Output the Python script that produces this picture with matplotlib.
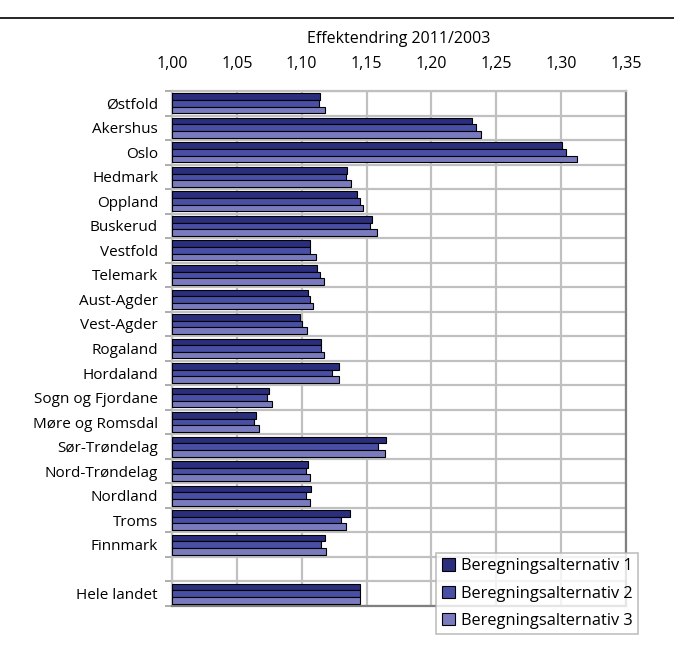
import numpy as np
import matplotlib.pyplot as plt
from matplotlib.ticker import FuncFormatter, FixedLocator

plt.rcParams['font.family'] = ['Open Sans', 'DejaVu Sans']

# data
fylker = ["Østfold", "Akershus", "Oslo", "Hedmark", "Oppland", "Buskerud",
          "Vestfold", "Telemark", "Aust-Agder", "Vest-Agder", "Rogaland",
          "Hordaland", "Sogn og Fjordane", "Møre og Romsdal", "Sør-Trøndelag",
          "Nord-Trøndelag", "Nordland", "Troms", "Finnmark"]
alt1 = [1.114, 1.231, 1.301, 1.135, 1.143, 1.154, 1.106, 1.112, 1.105, 1.099,
        1.115, 1.129, 1.075, 1.065, 1.165, 1.105, 1.107, 1.137, 1.118]
alt2 = [1.113, 1.234, 1.304, 1.134, 1.145, 1.153, 1.106, 1.114, 1.106, 1.100,
        1.115, 1.123, 1.073, 1.063, 1.159, 1.103, 1.103, 1.130, 1.115]
alt3 = [1.118, 1.238, 1.312, 1.138, 1.147, 1.158, 1.111, 1.117, 1.109, 1.104,
        1.117, 1.129, 1.077, 1.067, 1.164, 1.106, 1.106, 1.134, 1.119]
landet_label = "Hele landet"
landet = [1.145, 1.145, 1.145]
series_names = ["Beregningsalternativ 1", "Beregningsalternativ 2", "Beregningsalternativ 3"]
colors = ["#2b2e7c", "#4a4fa6", "#7a7bbf"]

fig = plt.figure(figsize=(6.74, 6.48), dpi=100)
ax = fig.add_axes([0.2552, 0.0648, 0.6736, 0.7948])

# one empty row between the counties and the national total
labels = fylker + ["", landet_label]
all_series = [alt1 + [np.nan, landet[0]],
              alt2 + [np.nan, landet[1]],
              alt3 + [np.nan, landet[2]]]
pos = np.arange(len(labels))

h = 0.27
for k, (vals, col, name) in enumerate(zip(all_series, colors, series_names)):
    v = np.array(vals, dtype=float)
    ax.barh(pos + (k - 1) * h, v - 1.0, left=1.0, height=h, color=col,
            edgecolor="black", linewidth=0.8, label=name, zorder=3)

ax.set_ylim(len(labels) - 0.5, -0.5)
ax.set_xlim(1.0, 1.35)

ax.set_yticks(pos)
ax.set_yticklabels(labels, fontsize=11)
ax.tick_params(axis="y", which="major", length=0, pad=10)
ax.yaxis.set_minor_locator(FixedLocator(np.arange(-0.5, len(labels), 1.0)))
ax.tick_params(axis="y", which="minor", length=5, width=1.2, color="#a0a0a0")

ax.xaxis.tick_top()
ax.xaxis.set_label_position("top")
ax.set_xticks(np.arange(1.0, 1.351, 0.05))
ax.xaxis.set_major_formatter(FuncFormatter(lambda x, p: f"{x:.2f}".replace(".", ",")))
ax.tick_params(axis="x", length=0, pad=14, labelsize=11.5)
ax.set_xlabel("Effektendring 2011/2003", fontsize=11.5, labelpad=9)

ax.grid(axis="x", which="major", color="#c0c0c0", linewidth=1.6, zorder=0)
ax.grid(axis="y", which="minor", color="#c0c0c0", linewidth=1.6, zorder=0)
ax.set_axisbelow(True)

for side in ["top", "left"]:
    ax.spines[side].set_color("#c0c0c0")
    ax.spines[side].set_linewidth(1.6)
for side in ["right", "bottom"]:
    ax.spines[side].set_color("#808080")
    ax.spines[side].set_linewidth(1.6)

leg = fig.legend(loc="lower right", bbox_to_anchor=(0.947, 0.021), fontsize=11.8,
                 frameon=True, fancybox=False, edgecolor="#b0b0b0",
                 handlelength=0.8, handleheight=0.8, handletextpad=0.35,
                 borderpad=0.35, labelspacing=0.68, borderaxespad=0.0)
leg.get_frame().set_linewidth(1.2)
leg.set_zorder(10)

# black rule at the top of the figure
fig.add_artist(plt.Line2D([0, 1], [1 - 18 / 648, 1 - 18 / 648],
                          transform=fig.transFigure, color="black", linewidth=1.2))

fig.savefig("out.png", dpi=100)
